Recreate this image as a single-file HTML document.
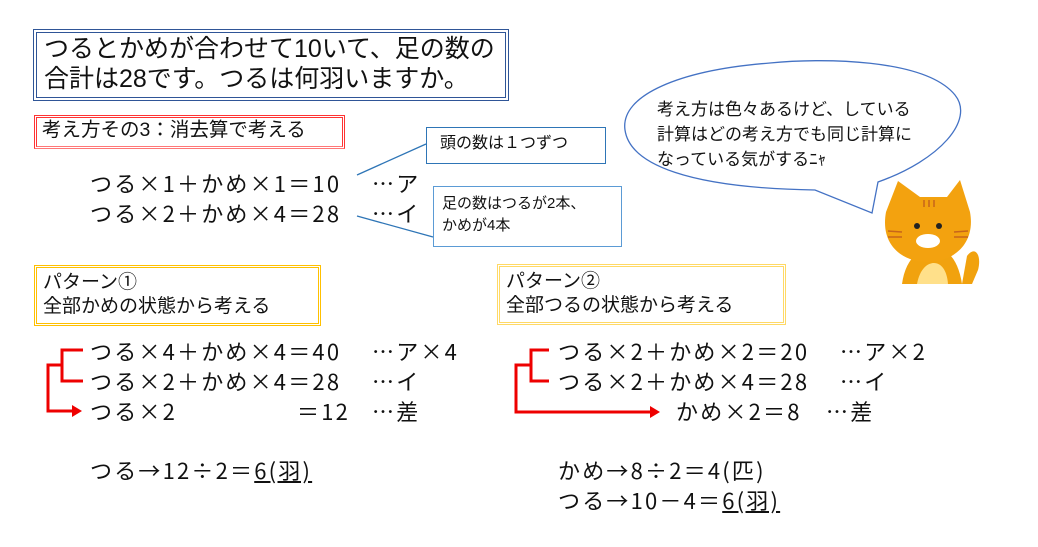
<!DOCTYPE html>
<html><head><meta charset="utf-8"><style>
body{margin:0;width:1038px;height:547px;background:#fff;position:relative;overflow:hidden;font-family:"Liberation Sans","Noto Sans CJK JP",sans-serif;color:#111}
.t{position:absolute;white-space:pre;line-height:1}
.e{font-size:22px;font-family:"Noto Sans CJK JP",sans-serif;line-height:22px;letter-spacing:2.2px}
.box{position:absolute;box-sizing:border-box}
</style></head><body>
<div class="box" style="left:33px;top:29px;width:476px;height:72px;border:4px double #2f5597"></div>
<div class="t" style="left:44px;top:34px;font-size:25px;line-height:30px">つるとかめが合わせて10いて、足の数の
合計は28です。つるは何羽いますか。</div>
<div class="box" style="left:34px;top:115px;width:311px;height:34px;border:3px double #ff3333;border-bottom-color:#ff7777"></div>
<div class="t" style="left:42px;top:121px;font-size:19.5px">考え方その3：消去算で考える</div>

<div class="t e" style="left:90px;top:172px">つる×1＋かめ×1＝10</div>
<div class="t e" style="left:372px;top:172px">…ア</div>
<div class="t e" style="left:90px;top:202px">つる×2＋かめ×4＝28</div>
<div class="t e" style="left:372px;top:202px">…イ</div>

<div class="box" style="left:426px;top:127px;width:180px;height:37px;border:1.5px solid #2e75b6"></div>
<div class="t" style="left:440px;top:136px;font-size:16px">頭の数は１つずつ</div>
<div class="box" style="left:433px;top:186px;width:189px;height:61px;border:1.5px solid #5b9bd5"></div>
<div class="t" style="left:442px;top:193px;font-size:15px;line-height:22px">足の数はつるが2本、
かめが4本</div>

<svg style="position:absolute;left:0;top:0" width="1038" height="547">
<line x1="357" y1="175" x2="426" y2="144" stroke="#2e75b6" stroke-width="1.3"/>
<line x1="357" y1="216" x2="433" y2="237" stroke="#2e75b6" stroke-width="1.3"/>
<path d="M878,182 C940,160 975,120 955,95 C925,58 820,58 770,63 C680,70 620,95 625,130 C630,165 690,188 815,190 L872,213 Z" fill="#fff" stroke="#4472c4" stroke-width="1.3"/>
<g fill="none" stroke="#ee0000" stroke-width="3">
<path d="M83,350 H62 V381 H83"/><path d="M62,365 H48 V411 H74"/>
<path d="M549,350 H531 V381 H549"/><path d="M531,365 H516 V412 H652"/>
</g>
<path d="M72,405 L82,411 L72,417 Z" fill="#ee0000"/>
<path d="M650,406 L660,412 L650,418 Z" fill="#ee0000"/>
<!-- cat -->
<path d="M967,256 C975,245 982,255 978,270 L972,284 L962,284 Z" fill="#f1a20e"/>
<path d="M902,284 C905,262 916,250 930,248 C946,246 958,258 962,284 Z" fill="#f1a20e"/>
<path d="M917,284 C920,268 928,263 934,263 C941,263 947,270 948,284 Z" fill="#ffe08a"/>
<path d="M886,212 L898,181 L920,197 L947,197 L960,180 L970,212 C976,245 952,262 928,262 C902,262 880,245 886,212 Z" fill="#f3a20f"/>
<circle cx="917" cy="226" r="3" fill="#222"/><circle cx="939" cy="226" r="3" fill="#222"/>
<ellipse cx="928" cy="241" rx="12" ry="7" fill="#fff"/>
<g stroke="#c7651a" stroke-width="1.5"><line x1="888" y1="231" x2="902" y2="232"/><line x1="888" y1="237" x2="902" y2="237"/><line x1="954" y1="232" x2="968" y2="231"/><line x1="954" y1="237" x2="968" y2="237"/><line x1="924" y1="200" x2="924" y2="207"/><line x1="929" y1="200" x2="929" y2="207"/><line x1="934" y1="200" x2="934" y2="207"/></g>
</svg>
<div class="t" style="left:657px;top:97px;font-size:17px;line-height:25px">考え方は色々あるけど、している
計算はどの考え方でも同じ計算に
なっている気がするﾆｬ</div>

<div class="box" style="left:34px;top:265px;width:287px;height:61px;border:3px double #ffc000"></div>
<div class="t" style="left:43px;top:271px;font-size:19px;line-height:24px">パターン①
全部かめの状態から考える</div>
<div class="box" style="left:497px;top:264px;width:289px;height:61px;border:3px double #ffd966"></div>
<div class="t" style="left:506px;top:270px;font-size:19px;line-height:24px">パターン②
全部つるの状態から考える</div>

<div class="t e" style="left:90px;top:340px">つる×4＋かめ×4＝40</div>
<div class="t e" style="left:372px;top:340px">…ア×4</div>
<div class="t e" style="left:90px;top:370px">つる×2＋かめ×4＝28</div>
<div class="t e" style="left:372px;top:370px">…イ</div>
<div class="t e" style="left:90px;top:400px">つる×2</div>
<div class="t e" style="left:297px;top:400px">＝12</div>
<div class="t e" style="left:372px;top:400px">…差</div>
<div class="t e" style="left:90px;top:459px">つる→12÷2＝<u>6(羽)</u></div>

<div class="t e" style="left:558px;top:340px">つる×2＋かめ×2＝20</div>
<div class="t e" style="left:840px;top:340px">…ア×2</div>
<div class="t e" style="left:558px;top:370px">つる×2＋かめ×4＝28</div>
<div class="t e" style="left:840px;top:370px">…イ</div>
<div class="t e" style="left:676px;top:400px">かめ×2＝8</div>
<div class="t e" style="left:826px;top:400px">…差</div>
<div class="t e" style="left:558px;top:459px">かめ→8÷2＝4(匹)</div>
<div class="t e" style="left:558px;top:489px">つる→10－4＝<u>6(羽)</u></div>
</body></html>
